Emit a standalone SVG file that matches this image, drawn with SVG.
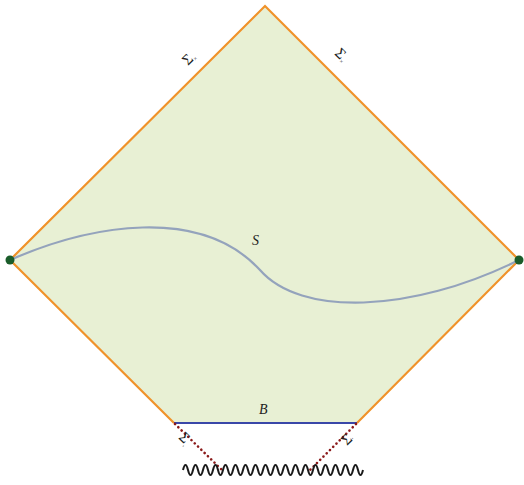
<svg xmlns="http://www.w3.org/2000/svg" width="524" height="485" viewBox="0 0 524 485">
<style>
.edge{fill:none;stroke:#f0922a;stroke-width:2.2;stroke-linejoin:miter}
.lbl{font-family:"Liberation Serif",serif;font-style:italic;font-size:14px;fill:#222}
.sig{font-family:"Liberation Serif",serif;font-size:15px;fill:#222}
.sub{font-size:6px}
.dot{fill:none;stroke:#8b1a1a;stroke-width:2.6;stroke-dasharray:0.1 4.5;stroke-linecap:round}
</style>
<rect width="524" height="485" fill="#ffffff"/>
<g id="region">
<polygon points="265,6 519,260 357,423 174,423 10,260" fill="#e8f0d4"/>
</g>
<g id="connectors">
<polyline class="edge" points="174,423 10,260 265,6 519,260 357,423"/>
<line x1="174" y1="423" x2="357" y2="423" stroke="#3a47a8" stroke-width="2.2"/>
<line class="dot" x1="175" y1="424" x2="222" y2="470"/>
<line class="dot" x1="356" y1="424" x2="310" y2="470"/>
<path d="M10,260 C90,225 200,205 260,270 C300,316 410,314 519,260" fill="none" stroke="#94a3bc" stroke-width="2.2"/>
<path d="M183,470 q2.5,-10 5,0 t5,0 t5,0 t5,0 t5,0 t5,0 t5,0 t5,0 t5,0 t5,0 t5,0 t5,0 t5,0 t5,0 t5,0 t5,0 t5,0 t5,0 t5,0 t5,0 t5,0 t5,0 t5,0 t5,0 t5,0 t5,0 t5,0 t5,0 t5,0 t5,0 t5,0 t5,0 t5,0 t5,0 t5,0 t5,0" fill="none" stroke="#1a1a1a" stroke-width="2"/>
</g>
<g id="endpoints">
<circle cx="10" cy="260" r="4.5" fill="#1a5c2a"/>
<circle cx="519" cy="260" r="4.5" fill="#1a5c2a"/>
</g>
<g id="labels">
<text class="lbl" x="252" y="245">S</text>
<text class="lbl" x="259" y="414">B</text>
<text class="sig" transform="translate(188,66) rotate(-45)">Σ<tspan class="sub" dy="2">×</tspan></text>
<text class="sig" transform="translate(334,54) rotate(45)">Σ<tspan class="sub" dy="2">×</tspan></text>
<text class="sig" transform="translate(178,438) rotate(45)">Σ<tspan class="sub" dy="2">,</tspan></text>
<text class="sig" transform="translate(347,446) rotate(-45)">Σ<tspan class="sub" dy="2">′</tspan></text>
</g>
</svg>
